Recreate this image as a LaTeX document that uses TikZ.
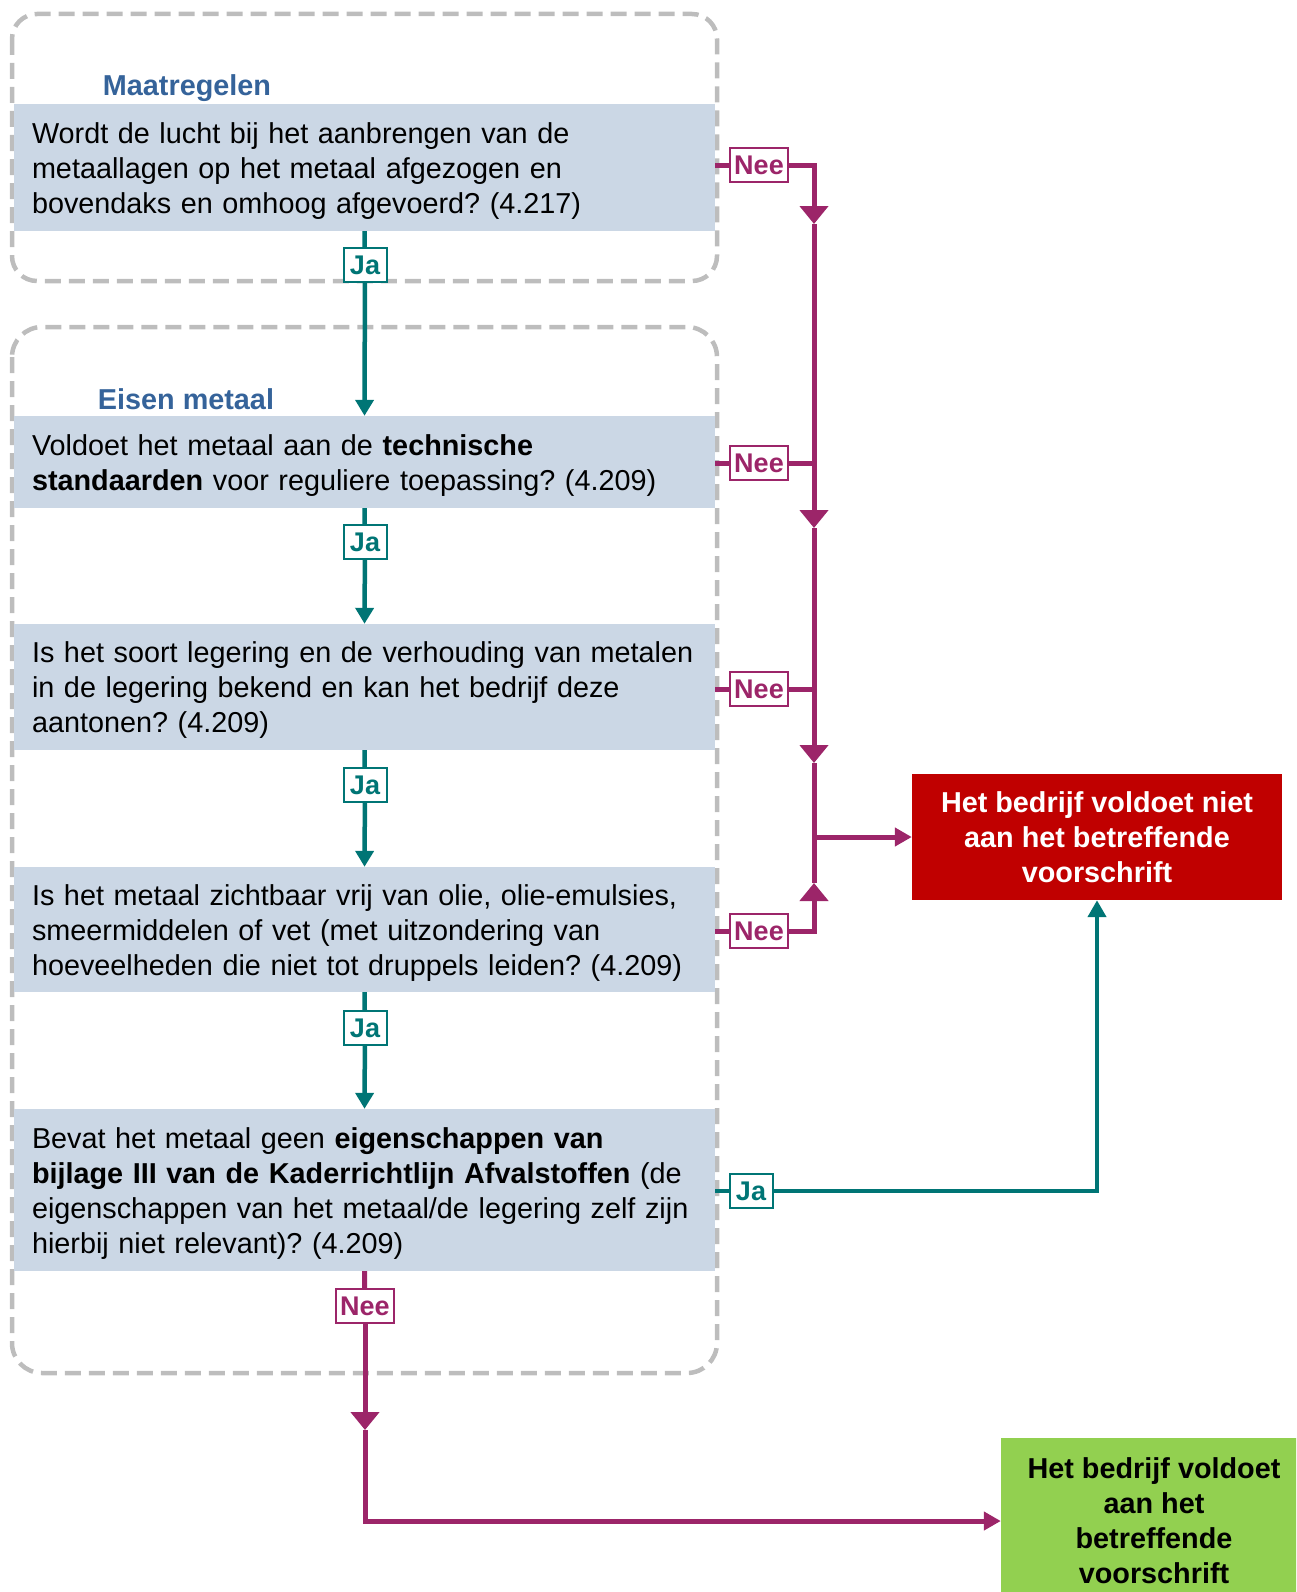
\documentclass[tikz,border=0pt]{standalone}
\usepackage{fontspec}
\setmainfont{Liberation Sans}
\usetikzlibrary{arrows.meta,calc}
\frenchspacing
\definecolor{qfill}{HTML}{CBD7E5}
\definecolor{titleblue}{HTML}{35639A}
\definecolor{tealc}{HTML}{007575}
\definecolor{neec}{HTML}{9C2569}
\definecolor{redc}{HTML}{C00000}
\definecolor{greenc}{HTML}{92D050}
\definecolor{dashgray}{HTML}{BDBDBD}
\newcommand\qfont{\fontsize{28.8}{35}\selectfont}
\newcommand\labfont{\fontsize{27}{30}\selectfont\bfseries}
\newcommand\qtop{\rule{0pt}{27pt}}
\tikzset{
  qbox/.style={fill=qfill, minimum width=701pt, text width=665pt, inner xsep=18pt, inner ysep=0pt, align=left, font=\qfont},
  lab/.style={draw=#1, fill=white, text=#1, line width=2pt, font=\labfont, inner xsep=4pt, inner ysep=2pt, minimum height=34pt, minimum width=43pt},
  titlelab/.style={text=titleblue, font=\qfont\bfseries},
  dashbox/.style={draw=dashgray, line width=4.5pt, dash pattern=on 16pt off 8pt},
  neeline/.style={draw=neec, line width=5pt},
  jaline/.style={draw=tealc, line width=4.5pt},
  outcome/.style={font=\qfont\bfseries, align=center, inner sep=0pt},
  bigtip/.tip={Triangle[width=28pt,length=18pt]},
  endtip/.tip={Triangle[width=18pt,length=17pt]},
  tealtip/.tip={Triangle[width=18pt,length=16pt]}
}
\begin{document}
\begin{tikzpicture}[x=1pt,y=-1pt]
\useasboundingbox (0,0) rectangle (1296,1592);
\clip (0,0) rectangle (1296,1592);

% dashed group frames
\draw[dashbox, rounded corners=25pt] (12,14) rectangle (717,281);
\draw[dashbox, rounded corners=30pt] (12,327) rectangle (717,1373);

% titles
\node[titlelab] (t1) at (187,88) {Maatregelen};
\node[titlelab] (t2) at (186,399) {Eisen metaal};

% question boxes
\node[qbox, minimum height=127pt] (q1) at (364.5,167.5) {\mbox{\qtop Wordt de lucht bij het aanbrengen van de}\\\mbox{metaallagen op het metaal afgezogen en}\\\mbox{bovendaks en omhoog afgevoerd? (4.217)}};
\node[qbox, minimum height=92pt] (q2) at (364.5,462) {\mbox{\qtop Voldoet het metaal aan de \textbf{technische}}\\\mbox{\textbf{standaarden} voor reguliere toepassing? (4.209)}};
\node[qbox, minimum height=126pt] (q3) at (364.5,687) {\mbox{\qtop Is het soort legering en de verhouding van metalen}\\\mbox{in de legering bekend en kan het bedrijf deze}\\\mbox{aantonen? (4.209)}};
\node[qbox, minimum height=125pt] (q4) at (364.5,929.5) {\mbox{\qtop Is het metaal zichtbaar vrij van olie, olie-emulsies,}\\\mbox{smeermiddelen of vet (met uitzondering van}\\\mbox{hoeveelheden die niet tot druppels leiden? (4.209)}};
\node[qbox, minimum height=162pt] (q5) at (364.5,1190) {\mbox{\qtop Bevat het metaal geen \textbf{eigenschappen van}}\\\mbox{\textbf{bijlage III van de Kaderrichtlijn Afvalstoffen} (de}\\\mbox{eigenschappen van het metaal/de legering zelf zijn}\\\mbox{hierbij niet relevant)? (4.209)}};

% outcomes
\node[fill=redc, text=white, outcome, minimum width=370pt, minimum height=126pt] (red) at (1097,837) {Het bedrijf voldoet niet\\aan het betreffende\\voorschrift};
\node[fill=greenc, text=black, outcome, minimum width=306pt, minimum height=166pt] (green) at (1154,1521) {Het bedrijf voldoet\\aan het\\betreffende\\voorschrift};

% labels
\node[lab=tealc] (ja1) at (365,265) {Ja};
\node[lab=tealc] (ja2) at (365,542) {Ja};
\node[lab=tealc] (ja3) at (365,785) {Ja};
\node[lab=tealc] (ja4) at (365,1028) {Ja};
\node[lab=tealc] (ja5) at (751,1191) {Ja};
\node[lab=neec] (nee1) at (759,165) {Nee};
\node[lab=neec] (nee2) at (759,463) {Nee};
\node[lab=neec] (nee3) at (759,689) {Nee};
\node[lab=neec] (nee4) at (759,931) {Nee};
\node[lab=neec] (nee5) at (365,1306) {Nee};

% bus coordinates
\coordinate (a1) at (814,224);
\coordinate (a2) at (814,528);
\coordinate (a3) at (814,763);
\coordinate (a4) at (814,883);
\coordinate (junc) at (814,837);
\coordinate (a5) at (365,1430);

% Ja connectors
\draw[jaline] (q1.south) -- (ja1);
\draw[jaline,-{tealtip}] (ja1) -- (q2.north);
\draw[jaline] (q2.south) -- (ja2);
\draw[jaline,-{tealtip}] (ja2) -- (q3.north);
\draw[jaline] (q3.south) -- (ja3);
\draw[jaline,-{tealtip}] (ja3) -- (q4.north);
\draw[jaline] (q4.south) -- (ja4);
\draw[jaline,-{tealtip}] (ja4) -- (q5.north);
\draw[jaline] (q5.east |- ja5) -- (ja5);
\draw[jaline,-{endtip}] (ja5) -| (red.south);

% Nee connectors
\draw[neeline] (q1.east |- nee1) -- (nee1);
\draw[neeline,-{bigtip}] (nee1) -| (a1);
\draw[neeline,-{bigtip}] (a1) -- (a2);
\draw[neeline] (q2.east |- nee2) -- (nee2);
\draw[neeline] (nee2) -- (nee2 -| a2);
\draw[neeline,-{bigtip}] (a2) -- (a3);
\draw[neeline] (q3.east |- nee3) -- (nee3);
\draw[neeline] (nee3) -- (nee3 -| a3);
\draw[neeline] (a3) -- (junc);
\draw[neeline] (q4.east |- nee4) -- (nee4);
\draw[neeline,-{bigtip}] (nee4) -| (a4);
\draw[neeline] (a4) -- (junc);
\draw[neeline,-{endtip}] (junc) -- (red.west);
\draw[neeline] (q5.south) -- (nee5);
\draw[neeline,-{bigtip}] (nee5) -- (a5);
\draw[neeline,-{endtip}] (a5) |- (green.west);
\end{tikzpicture}
\end{document}
